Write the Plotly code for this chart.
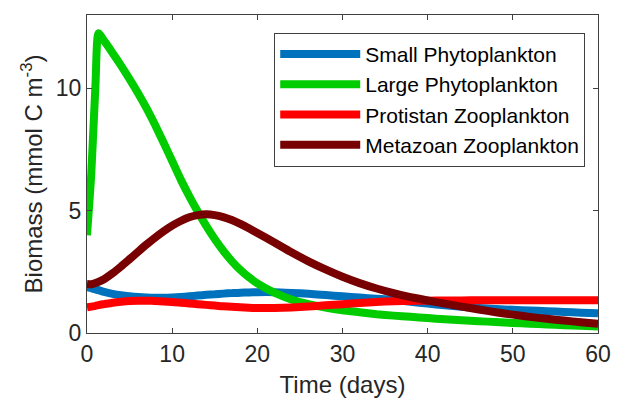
import plotly.graph_objects as go

# Time axis (days)
time_days = [0, 0.5, 1, 1.35, 2, 3, 4, 5, 6, 7, 8, 9, 10, 11, 12, 13, 14, 15, 16, 17, 18,
             19, 20, 22, 24, 26, 28, 30, 32, 34, 36, 38, 40, 42, 44, 46, 48, 50, 52, 54,
             56, 58, 60]

small_phyto = [1.88, 1.83, 1.78, 1.75, 1.68, 1.60, 1.54, 1.50, 1.47, 1.45, 1.44, 1.44, 1.45,
               1.47, 1.50, 1.53, 1.56, 1.58, 1.61, 1.63, 1.65, 1.66, 1.67, 1.67, 1.64, 1.60,
               1.55, 1.50, 1.45, 1.40, 1.35, 1.28, 1.20, 1.13, 1.07, 1.02, 0.98, 0.95, 0.92,
               0.89, 0.86, 0.83, 0.81]

large_phyto = [4.0, 6.5, 10.2, 12.25, 11.95, 11.45, 10.93, 10.38, 9.8, 9.18, 8.5, 7.78, 7.03,
               6.28, 5.6, 4.97, 4.38, 3.84, 3.36, 2.94, 2.58, 2.28, 2.03, 1.65, 1.37, 1.18,
               1.04, 0.93, 0.85, 0.77, 0.71, 0.66, 0.61, 0.56, 0.52, 0.48, 0.45, 0.41, 0.38,
               0.35, 0.32, 0.30, 0.27]

protist_zoo = [1.05, 1.08, 1.11, 1.14, 1.18, 1.24, 1.28, 1.31, 1.32, 1.32, 1.31, 1.29, 1.27,
               1.24, 1.21, 1.18, 1.15, 1.12, 1.09, 1.07, 1.05, 1.03, 1.02, 1.02, 1.04, 1.08,
               1.13, 1.18, 1.23, 1.27, 1.30, 1.31, 1.32, 1.33, 1.33, 1.34, 1.34, 1.34, 1.34,
               1.34, 1.34, 1.34, 1.34]

metazoan_zoo = [2.0, 1.99, 2.04, 2.09, 2.2, 2.44, 2.72, 3.02, 3.32, 3.62, 3.9, 4.16, 4.39,
                4.58, 4.73, 4.82, 4.85, 4.82, 4.74, 4.62, 4.46, 4.28, 4.09, 3.7, 3.3, 2.93,
                2.6, 2.3, 2.04, 1.82, 1.63, 1.47, 1.33, 1.2, 1.08, 0.96, 0.85, 0.75, 0.66,
                0.58, 0.51, 0.44, 0.38]

series_names = ["Small Phytoplankton", "Large Phytoplankton",
                "Protistan Zooplankton", "Metazoan Zooplankton"]
series_values = [small_phyto, large_phyto, protist_zoo, metazoan_zoo]
series_colors = ["#0072BD", "#00CC00", "#FF0000", "#780000"]

x_ticks = [0, 10, 20, 30, 40, 50, 60]
y_ticks = [0, 5, 10]

FONT = "Liberation Sans, Arial, Helvetica, sans-serif"
AXIS_COLOR = "#404040"
TEXT_COLOR = "#262626"

fig = go.Figure()
for name, vals, col in zip(series_names, series_values, series_colors):
    fig.add_trace(go.Scatter(
        x=time_days, y=vals, name=name, mode="lines",
        line=dict(color=col, width=8, shape="spline", smoothing=0.6),
    ))

axis_common = dict(
    showline=True, linecolor=AXIS_COLOR, linewidth=1, mirror="ticks",
    ticks="inside", ticklen=5, tickwidth=1, tickcolor=AXIS_COLOR,
    showgrid=False, zeroline=False,
    tickfont=dict(family=FONT, size=23, color=TEXT_COLOR),
)

fig.update_xaxes(
    range=[0, 60], tickvals=x_ticks, ticktext=[str(v) for v in x_ticks],
    title=dict(text="Time (days)", font=dict(family=FONT, size=24, color=TEXT_COLOR), standoff=10),
    **axis_common,
)
fig.update_yaxes(
    range=[0, 13], tickvals=y_ticks, ticktext=[str(v) for v in y_ticks],
    title=dict(text="Biomass (mmol C m<sup>-3</sup>)",
               font=dict(family=FONT, size=24, color=TEXT_COLOR), standoff=6),
    **axis_common,
)

fig.update_layout(
    width=623, height=405,
    margin=dict(l=87, r=15, t=15, b=70),
    paper_bgcolor="white", plot_bgcolor="white",
    showlegend=True,
    legend=dict(
        x=0.975, y=0.944, xanchor="right", yanchor="top",
        bgcolor="white", bordercolor=AXIS_COLOR, borderwidth=1,
        font=dict(family=FONT, size=21, color="black"),
        itemwidth=80,
    ),
)

fig.write_html("out.html")
